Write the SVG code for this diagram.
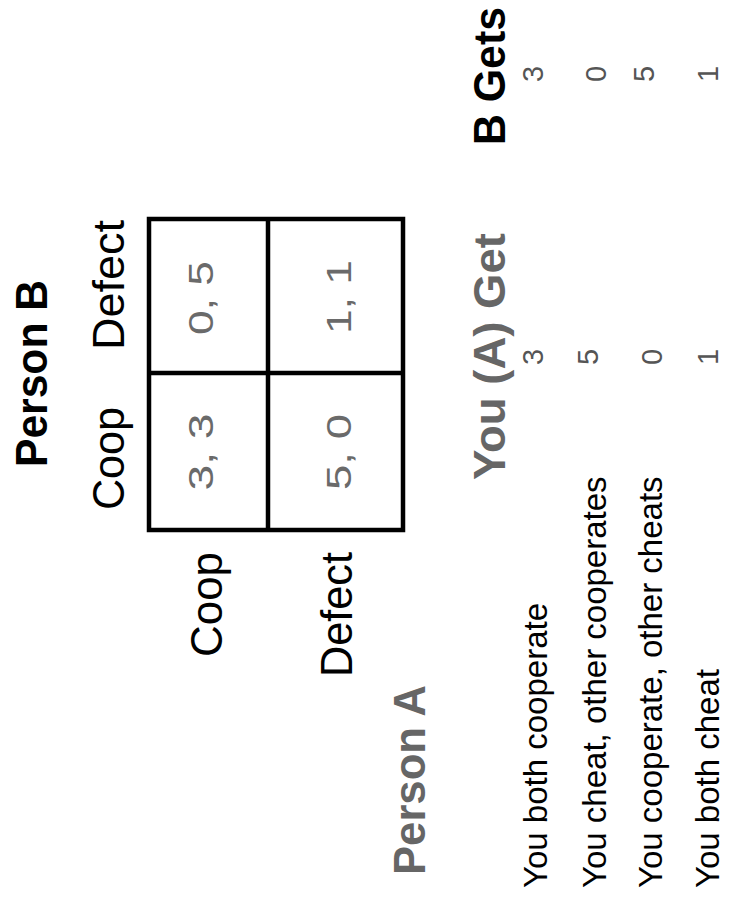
<svg xmlns="http://www.w3.org/2000/svg" width="730" height="898" viewBox="0 0 730 898">
<style>
text{font-family:"Liberation Sans",Arial,Helvetica,sans-serif;}
.lab{font-size:45px;fill:#000;}
.bold{font-weight:bold;}
.gray{fill:#666666;}
.cell{font-size:35px;fill:#6a6a6a;text-anchor:middle;}
.row{font-size:33px;fill:#000;}
.num{font-size:29px;fill:#555;text-anchor:middle;}
.grid{fill:none;stroke:#000;stroke-width:4.5;}
</style>
<rect width="730" height="898" fill="#fff"/>
<g id="matrix">
  <rect class="grid" x="149" y="219" width="254" height="311"/>
  <line class="grid" x1="268" y1="219" x2="268" y2="530"/>
  <line class="grid" x1="149" y1="373" x2="403" y2="373"/>
</g>
<g id="person-b">
  <text class="lab bold" transform="translate(47,467) rotate(-90)" textLength="187" lengthAdjust="spacingAndGlyphs">Person B</text>
</g>
<g id="col-labels">
  <text class="lab" transform="translate(124,510) rotate(-90)" textLength="103" lengthAdjust="spacingAndGlyphs">Coop</text>
  <text class="lab" transform="translate(124,350) rotate(-90)" textLength="130" lengthAdjust="spacingAndGlyphs">Defect</text>
</g>
<g id="row-labels">
  <text class="lab" transform="translate(222,552) rotate(-90)" text-anchor="end" textLength="105" lengthAdjust="spacingAndGlyphs">Coop</text>
  <text class="lab" transform="translate(352,552) rotate(-90)" text-anchor="end" textLength="125" lengthAdjust="spacingAndGlyphs">Defect</text>
</g>
<g id="person-a">
  <text class="lab bold gray" transform="translate(425,875) rotate(-90)" textLength="190" lengthAdjust="spacingAndGlyphs">Person A</text>
</g>
<g id="cells">
  <text class="cell" transform="translate(213,452) rotate(-90)" textLength="77" lengthAdjust="spacingAndGlyphs">3, 3</text>
  <text class="cell" transform="translate(213,298) rotate(-90)" textLength="74" lengthAdjust="spacingAndGlyphs">0, 5</text>
  <text class="cell" transform="translate(351,452) rotate(-90)" textLength="76" lengthAdjust="spacingAndGlyphs">5, 0</text>
  <text class="cell" transform="translate(351,297) rotate(-90)" textLength="74" lengthAdjust="spacingAndGlyphs">1, 1</text>
</g>
<g id="headers">
  <text class="lab bold gray" transform="translate(505,480) rotate(-90)" textLength="247" lengthAdjust="spacingAndGlyphs">You (A) Get</text>
  <text class="lab bold" transform="translate(505,145) rotate(-90)" textLength="138" lengthAdjust="spacingAndGlyphs">B Gets</text>
</g>
<g id="outcomes">
  <text class="row" transform="translate(547,888) rotate(-90)">You both cooperate</text>
  <text class="row" transform="translate(606,888) rotate(-90)">You cheat, other cooperates</text>
  <text class="row" transform="translate(662,888) rotate(-90)">You cooperate, other cheats</text>
  <text class="row" transform="translate(719,888) rotate(-90)">You both cheat</text>
</g>
<g id="you-get">
  <text class="num" transform="translate(543,357) rotate(-90)">3</text>
  <text class="num" transform="translate(598,357) rotate(-90)">5</text>
  <text class="num" transform="translate(662,357) rotate(-90)">0</text>
  <text class="num" transform="translate(718,357) rotate(-90)">1</text>
</g>
<g id="b-gets">
  <text class="num" transform="translate(543,74) rotate(-90)">3</text>
  <text class="num" transform="translate(606,74) rotate(-90)">0</text>
  <text class="num" transform="translate(654,74) rotate(-90)">5</text>
  <text class="num" transform="translate(718,74) rotate(-90)">1</text>
</g>
</svg>
